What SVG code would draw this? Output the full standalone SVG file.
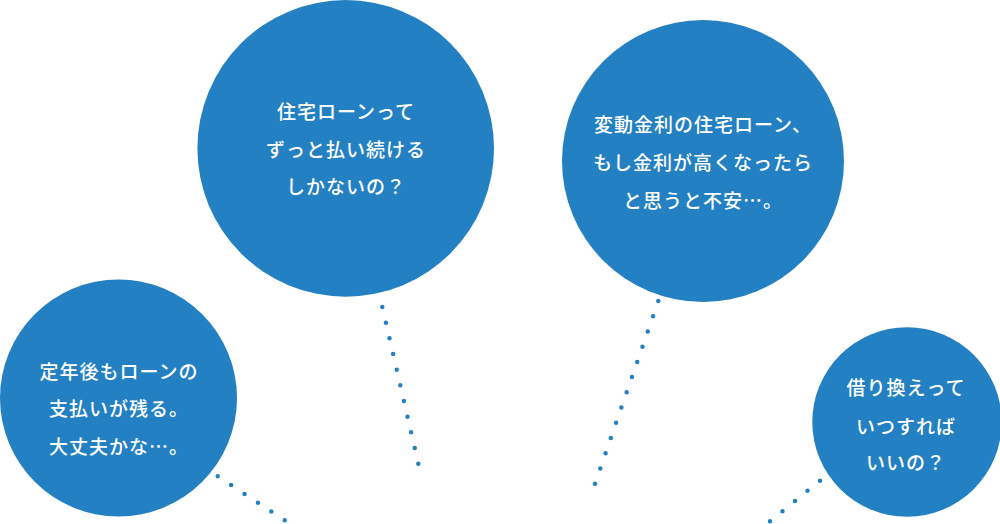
<svg xmlns="http://www.w3.org/2000/svg" width="1000" height="524" viewBox="0 0 1000 524">
<style>
.bubble{fill:#2380c3;}
.t{fill:#ffffff;font-family:"Noto Sans CJK JP","Noto Sans",sans-serif;font-size:19px;font-weight:500;letter-spacing:1px;text-anchor:middle;dominant-baseline:central;}
.dots{fill:none;stroke:#2380c3;stroke-width:4.5;stroke-linecap:round;}
</style>
<rect width="1000" height="524" fill="#ffffff"/>
<g id="connectors">
<line class="dots" x1="217.7" y1="476.3" x2="286.4" y2="521.4" stroke-dasharray="0 16.04"/>
<line class="dots" x1="382.3" y1="307" x2="418.75" y2="465.65" stroke-dasharray="0 16.08"/>
<line class="dots" x1="658.3" y1="301" x2="594.35" y2="485.6" stroke-dasharray="0 16.11"/>
<line class="dots" x1="820" y1="480.7" x2="768.45" y2="522.56" stroke-dasharray="0 16.1"/>
</g>
<g id="node-retire">
<circle class="bubble" cx="118.5" cy="398" r="118.5"/>
<text class="t" x="119" y="370">定年後もローンの</text>
<text class="t" x="119" y="407">支払いが残る。</text>
<text class="t" x="119" y="445">大丈夫かな…。</text>
</g>
<g id="node-forever">
<circle class="bubble" cx="345.7" cy="148.4" r="148.3"/>
<text class="t" x="346" y="110">住宅ローンって</text>
<text class="t" x="346" y="148">ずっと払い続ける</text>
<text class="t" x="346" y="185.5">しかないの？</text>
</g>
<g id="node-variable">
<circle class="bubble" cx="703" cy="161" r="141"/>
<text class="t" x="703" y="123.3">変動金利の住宅ローン、</text>
<text class="t" x="703" y="161.7">もし金利が高くなったら</text>
<text class="t" x="703" y="199.3">と思うと不安…。</text>
</g>
<g id="node-refinance">
<circle class="bubble" cx="907" cy="422" r="94.7"/>
<text class="t" x="906" y="386.7">借り換えって</text>
<text class="t" x="906" y="425">いつすれば</text>
<text class="t" x="906" y="461.7">いいの？</text>
</g>
</svg>
